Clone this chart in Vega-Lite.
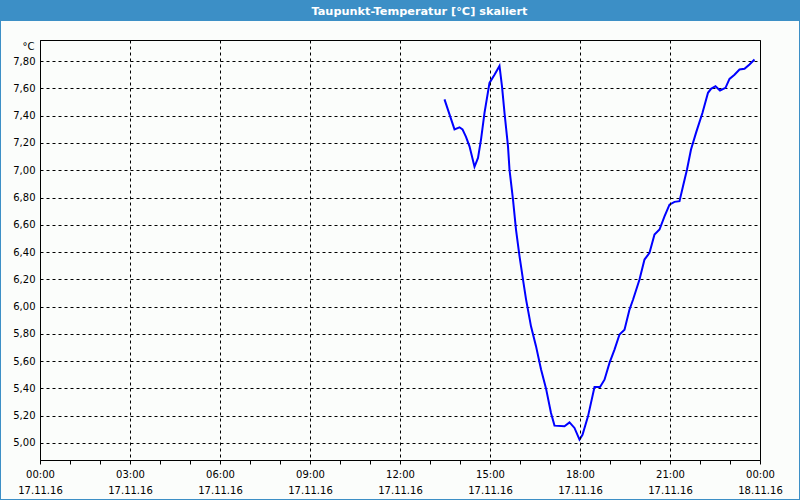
{
  "$schema": "https://vega.github.io/schema/vega-lite/v6.json",
  "width": 720,
  "height": 420,
  "autosize": {"type": "none"},
  "padding": {"left": 40, "top": 40, "right": 40, "bottom": 40},
  "background": "#fbfdfb",
  "config": {
    "view": {"stroke": "#000000", "strokeWidth": 1, "fill": "#fbfdfb"},
    "font": "DejaVu Sans"
  },
  "data": {
    "values": [
      {"t": "2016-11-17T13:29:00Z", "v": 7.52},
      {"t": "2016-11-17T13:49:00Z", "v": 7.30},
      {"t": "2016-11-17T13:59:00Z", "v": 7.315},
      {"t": "2016-11-17T14:05:00Z", "v": 7.30},
      {"t": "2016-11-17T14:12:00Z", "v": 7.245},
      {"t": "2016-11-17T14:19:00Z", "v": 7.175},
      {"t": "2016-11-17T14:29:00Z", "v": 7.025},
      {"t": "2016-11-17T14:36:00Z", "v": 7.09},
      {"t": "2016-11-17T14:42:00Z", "v": 7.225},
      {"t": "2016-11-17T14:49:00Z", "v": 7.42},
      {"t": "2016-11-17T14:59:00Z", "v": 7.64},
      {"t": "2016-11-17T15:09:00Z", "v": 7.70},
      {"t": "2016-11-17T15:19:00Z", "v": 7.765},
      {"t": "2016-11-17T15:24:00Z", "v": 7.615},
      {"t": "2016-11-17T15:29:00Z", "v": 7.42},
      {"t": "2016-11-17T15:36:00Z", "v": 7.175},
      {"t": "2016-11-17T15:39:00Z", "v": 7.005},
      {"t": "2016-11-17T15:46:00Z", "v": 6.785},
      {"t": "2016-11-17T15:52:00Z", "v": 6.565},
      {"t": "2016-11-17T15:59:00Z", "v": 6.37},
      {"t": "2016-11-17T16:06:00Z", "v": 6.198},
      {"t": "2016-11-17T16:12:00Z", "v": 6.055},
      {"t": "2016-11-17T16:22:00Z", "v": 5.855},
      {"t": "2016-11-17T16:32:00Z", "v": 5.71},
      {"t": "2016-11-17T16:42:00Z", "v": 5.54},
      {"t": "2016-11-17T16:52:00Z", "v": 5.40},
      {"t": "2016-11-17T17:02:00Z", "v": 5.22},
      {"t": "2016-11-17T17:09:00Z", "v": 5.127},
      {"t": "2016-11-17T17:29:00Z", "v": 5.122},
      {"t": "2016-11-17T17:39:00Z", "v": 5.151},
      {"t": "2016-11-17T17:49:00Z", "v": 5.11},
      {"t": "2016-11-17T17:59:00Z", "v": 5.024},
      {"t": "2016-11-17T18:05:00Z", "v": 5.06},
      {"t": "2016-11-17T18:16:00Z", "v": 5.195},
      {"t": "2016-11-17T18:29:00Z", "v": 5.41},
      {"t": "2016-11-17T18:40:00Z", "v": 5.41},
      {"t": "2016-11-17T18:49:00Z", "v": 5.464},
      {"t": "2016-11-17T18:59:00Z", "v": 5.587},
      {"t": "2016-11-17T19:09:00Z", "v": 5.685},
      {"t": "2016-11-17T19:19:00Z", "v": 5.795},
      {"t": "2016-11-17T19:29:00Z", "v": 5.83},
      {"t": "2016-11-17T19:39:00Z", "v": 5.978},
      {"t": "2016-11-17T19:46:00Z", "v": 6.05},
      {"t": "2016-11-17T19:59:00Z", "v": 6.198},
      {"t": "2016-11-17T20:09:00Z", "v": 6.345},
      {"t": "2016-11-17T20:19:00Z", "v": 6.394},
      {"t": "2016-11-17T20:29:00Z", "v": 6.528},
      {"t": "2016-11-17T20:39:00Z", "v": 6.565},
      {"t": "2016-11-17T20:49:00Z", "v": 6.662},
      {"t": "2016-11-17T20:59:00Z", "v": 6.748},
      {"t": "2016-11-17T21:09:00Z", "v": 6.768},
      {"t": "2016-11-17T21:19:00Z", "v": 6.773},
      {"t": "2016-11-17T21:26:00Z", "v": 6.883},
      {"t": "2016-11-17T21:34:00Z", "v": 7.005},
      {"t": "2016-11-17T21:42:00Z", "v": 7.152},
      {"t": "2016-11-17T21:52:00Z", "v": 7.274},
      {"t": "2016-11-17T22:05:00Z", "v": 7.421},
      {"t": "2016-11-17T22:16:00Z", "v": 7.568},
      {"t": "2016-11-17T22:22:00Z", "v": 7.597},
      {"t": "2016-11-17T22:31:00Z", "v": 7.616},
      {"t": "2016-11-17T22:40:00Z", "v": 7.585},
      {"t": "2016-11-17T22:51:00Z", "v": 7.604},
      {"t": "2016-11-17T22:59:00Z", "v": 7.67},
      {"t": "2016-11-17T23:09:00Z", "v": 7.70},
      {"t": "2016-11-17T23:19:00Z", "v": 7.739},
      {"t": "2016-11-17T23:29:00Z", "v": 7.744},
      {"t": "2016-11-17T23:39:00Z", "v": 7.776},
      {"t": "2016-11-17T23:49:00Z", "v": 7.812}
    ]
  },
  "layer": [
    {
      "mark": {"type": "line", "color": "#0000ff", "strokeWidth": 2, "interpolate": "linear"},
      "encoding": {
        "x": {
          "field": "t",
          "type": "temporal",
          "scale": {"type": "utc", "nice": false, "domain": [1479340800000, 1479427200000]},
          "axis": {
            "values": [1479340800000, 1479344400000, 1479348000000, 1479351600000, 1479355200000, 1479358800000, 1479362400000, 1479366000000, 1479369600000, 1479373200000, 1479376800000, 1479380400000, 1479384000000, 1479387600000, 1479391200000, 1479394800000, 1479398400000, 1479402000000, 1479405600000, 1479409200000, 1479412800000, 1479416400000, 1479420000000, 1479423600000, 1479427200000],
            "tickCount": 100,
            "labelExpr": "utchours(datum.value) % 3 == 0 ? [utcFormat(datum.value, '%H:%M'), utcFormat(datum.value, '%d.%m.%y')] : ''",
            "labelFont": "DejaVu Sans",
            "labelFontSize": 10,
            "labelColor": "#000000",
            "labelLineHeight": 16,
            "labelBaseline": "top",
            "labelAlign": "center",
            "labelPadding": 5,
            "labelOverlap": false,
            "labelFlush": false,
            "labelBound": false,
            "ticks": true,
            "tickSize": 4,
            "tickColor": "#000000",
            "domain": true,
            "domainColor": "#000000",
            "grid": true,
            "gridColor": "#000000",
            "gridDash": [3, 3],
            "gridWidth": 1,
            "gridOpacity": {"expr": "utchours(datum.value) % 3 == 0 ? 1 : 0"},
            "title": "Taupunkt-Temperatur [°C] skaliert",
            "titleColor": "#ffffff",
            "titleFont": "DejaVu Sans",
            "titleFontSize": 11.3,
            "titleFontWeight": "bold",
            "titleX": 379,
            "titleY": -446,
            "titleAlign": "center",
            "titleBaseline": "alphabetic",
            "zindex": 1
          }
        },
        "y": {
          "field": "v",
          "type": "quantitative",
          "scale": {"domain": [4.875, 7.955], "nice": false, "zero": false},
          "axis": {
            "values": [5.0, 5.2, 5.4, 5.6, 5.8, 6.0, 6.2, 6.4, 6.6, 6.8, 7.0, 7.2, 7.4, 7.6, 7.8],
            "tickCount": 100,
            "labelExpr": "replace(format(datum.value, '.2f'), '.', ',')",
            "labelFont": "DejaVu Sans",
            "labelFontSize": 10,
            "labelColor": "#000000",
            "labelPadding": 5,
            "labelOverlap": false,
            "ticks": false,
            "tickSize": 0,
            "domain": true,
            "domainColor": "#000000",
            "grid": true,
            "gridColor": "#000000",
            "gridDash": [3, 3],
            "gridWidth": 1,
            "title": "°C",
            "titleAngle": 0,
            "titleColor": "#000000",
            "titleFont": "DejaVu Sans",
            "titleFontSize": 10,
            "titleFontWeight": "normal",
            "titleX": -6,
            "titleY": 9.5,
            "titleAlign": "right",
            "titleBaseline": "alphabetic"
          }
        }
      }
    },
    {
      "mark": {"type": "rect", "color": "#3c8fc6", "clip": false},
      "encoding": {
        "x": {"datum": 1479336000000, "type": "temporal", "scale": {"type": "utc", "nice": false, "domain": [1479340800000, 1479427200000]}},
        "x2": {"datum": 1479432000000},
        "y": {"datum": 8.2483, "type": "quantitative", "scale": {"domain": [4.875, 7.955], "nice": false, "zero": false}},
        "y2": {"datum": 8.098}
      }
    },
    {
      "mark": {"type": "rect", "fillOpacity": 0, "stroke": "#3c8fc6", "strokeWidth": 2, "clip": false},
      "encoding": {
        "x": {"datum": 1479336000000, "type": "temporal", "scale": {"type": "utc", "nice": false, "domain": [1479340800000, 1479427200000]}},
        "x2": {"datum": 1479432000000},
        "y": {"datum": 8.2483, "type": "quantitative", "scale": {"domain": [4.875, 7.955], "nice": false, "zero": false}},
        "y2": {"datum": 4.5817}
      }
    }
  ]
}
